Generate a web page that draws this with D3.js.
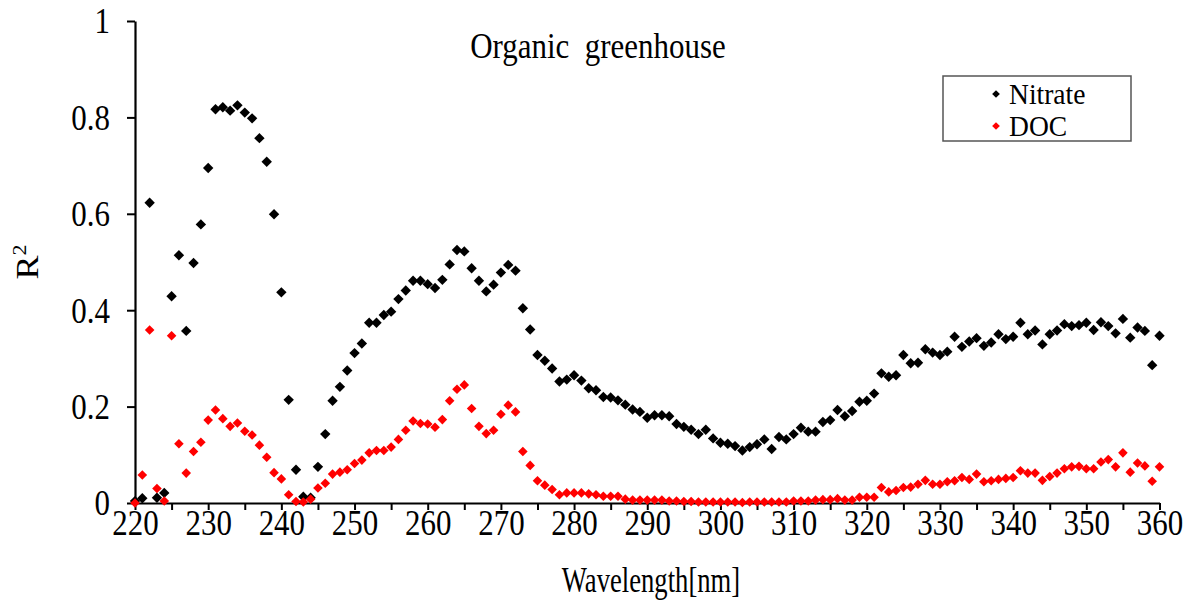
<!DOCTYPE html>
<html>
<head>
<meta charset="utf-8">
<script src="https://cdn.jsdelivr.net/npm/d3@7"></script>
<style>
  body { margin: 0; background: #fff; }
  text { font-family: "Liberation Serif", "Times New Roman", serif; fill: #000; }
</style>
</head>
<body>
<svg id="chart" width="1192" height="608"></svg>
<script>
// wavelengths 220..360 nm, one point per nm
const wavelengths = d3.range(220, 361);

const nitrate = [
  0.004, 0.010, 0.623, 0.011, 0.021, 0.429, 0.514, 0.357, 0.498, 0.578,
  0.695, 0.817, 0.821, 0.814, 0.825, 0.810, 0.798, 0.757, 0.708, 0.599,
  0.437, 0.214, 0.069, 0.013, 0.011, 0.075, 0.143, 0.212, 0.241, 0.275,
  0.311, 0.331, 0.374, 0.374, 0.390, 0.397, 0.423, 0.441, 0.461, 0.461,
  0.454, 0.446, 0.463, 0.495, 0.525, 0.522, 0.487, 0.461, 0.439, 0.453,
  0.478, 0.494, 0.482, 0.404, 0.360, 0.307, 0.295, 0.279, 0.252, 0.256,
  0.265, 0.254, 0.238, 0.234, 0.220, 0.219, 0.213, 0.204, 0.194, 0.189,
  0.177, 0.182, 0.182, 0.180, 0.164, 0.158, 0.152, 0.143, 0.152, 0.134,
  0.125, 0.123, 0.118, 0.109, 0.116, 0.122, 0.132, 0.112, 0.137, 0.132,
  0.143, 0.156, 0.148, 0.148, 0.168, 0.172, 0.193, 0.180, 0.191, 0.210,
  0.212, 0.227, 0.269, 0.262, 0.265, 0.307, 0.290, 0.291, 0.319, 0.312,
  0.307, 0.314, 0.345, 0.324, 0.335, 0.342, 0.326, 0.333, 0.350, 0.340,
  0.345, 0.374, 0.350, 0.358, 0.329, 0.350, 0.358, 0.371, 0.367, 0.369,
  0.374, 0.359, 0.375, 0.367, 0.352, 0.382, 0.343, 0.364, 0.357, 0.286,
  0.347
];

const doc = [
  0.000, 0.058, 0.359, 0.030, 0.004, 0.347, 0.123, 0.062, 0.107, 0.126,
  0.172, 0.193, 0.175, 0.159, 0.166, 0.149, 0.141, 0.120, 0.095, 0.063,
  0.050, 0.017, 0.003, 0.002, 0.008, 0.031, 0.041, 0.060, 0.064, 0.069,
  0.082, 0.089, 0.104, 0.109, 0.109, 0.116, 0.132, 0.151, 0.170, 0.165,
  0.164, 0.157, 0.173, 0.212, 0.236, 0.245, 0.196, 0.159, 0.144, 0.151,
  0.184, 0.203, 0.189, 0.107, 0.078, 0.046, 0.037, 0.028, 0.017, 0.021,
  0.021, 0.021, 0.019, 0.017, 0.014, 0.014, 0.014, 0.008, 0.006, 0.006,
  0.006, 0.006, 0.006, 0.004, 0.004, 0.003, 0.003, 0.002, 0.002, 0.002,
  0.002, 0.002, 0.002, 0.001, 0.002, 0.002, 0.002, 0.002, 0.002, 0.002,
  0.004, 0.004, 0.004, 0.006, 0.007, 0.007, 0.009, 0.006, 0.006, 0.012,
  0.012, 0.012, 0.032, 0.023, 0.026, 0.032, 0.033, 0.039, 0.047, 0.039,
  0.039, 0.044, 0.046, 0.053, 0.049, 0.060, 0.044, 0.046, 0.049, 0.051,
  0.053, 0.067, 0.062, 0.062, 0.047, 0.055, 0.062, 0.071, 0.075, 0.076,
  0.071, 0.071, 0.085, 0.090, 0.075, 0.104, 0.064, 0.083, 0.077, 0.045,
  0.075
];

const xTicks = d3.range(220, 361, 5);
const yTicks = [0, 0.2, 0.4, 0.6, 0.8, 1];
const yTickLabels = ["0", "0.2", "0.4", "0.6", "0.8", "1"];
const seriesNames = ["Nitrate", "DOC"];
const seriesColors = ["#000000", "#ff0000"];

const svg = d3.select("#chart");
const FS = 36, SX = 0.86; // serif text looks squeezed horizontally in the original

const xScale = d3.scaleLinear().domain([220, 360]).range([135, 1159.5]);
const yScale = d3.scaleLinear().domain([0, 1]).range([503, 21]);

// x axis
const xAxisG = svg.append("g")
  .attr("transform", `translate(0,${yScale(0)})`)
  .call(d3.axisBottom(xScale)
    .tickValues(xTicks)
    .tickSize(7)
    .tickSizeOuter(0)
    .tickFormat(d => (d % 10 === 0 ? d : "")));
xAxisG.select(".domain").attr("stroke-width", 2.2);
xAxisG.selectAll(".tick line").attr("stroke-width", 2);
xAxisG.selectAll(".tick text")
  .attr("font-size", FS)
  .attr("y", 32)
  .attr("dy", 0)
  .attr("transform", `scale(${SX},1)`);

// y axis
const yAxisG = svg.append("g")
  .attr("transform", `translate(${xScale(220)},0)`)
  .call(d3.axisLeft(yScale)
    .tickValues(yTicks)
    .tickSize(8)
    .tickSizeOuter(0)
    .tickFormat((d, i) => yTickLabels[i]));
yAxisG.select(".domain").attr("stroke-width", 2.2);
yAxisG.selectAll(".tick line").attr("stroke-width", 2);
yAxisG.selectAll(".tick text")
  .attr("font-size", FS)
  .attr("x", -25 / SX)
  .attr("dy", "0.33em")
  .attr("transform", `scale(${SX},1)`);

// markers: rotated squares (diamonds)
const diamond = (size) => d3.symbol(d3.symbolSquare, size);

const series = [nitrate, doc];
const sizes = [54, 46];
series.forEach((vals, s) => {
  svg.append("g")
    .selectAll("path")
    .data(vals)
    .enter()
    .append("path")
    .attr("d", diamond(sizes[s]))
    .attr("fill", seriesColors[s])
    .attr("transform", (d, i) => `translate(${xScale(wavelengths[i])},${yScale(d)}) rotate(45)`);
});

// title
svg.append("text")
  .attr("transform", `translate(598,58) scale(${SX},1)`)
  .attr("text-anchor", "middle")
  .attr("font-size", FS)
  .attr("xml:space", "preserve")
  .text("Organic  greenhouse");

// axis titles
svg.append("text")
  .attr("transform", `translate(651,592) scale(0.74,1)`)
  .attr("text-anchor", "middle")
  .attr("font-size", FS)
  .text("Wavelength[nm]");

const yLab = svg.append("text")
  .attr("transform", `translate(38,262) rotate(-90) scale(1,${SX})`)
  .attr("text-anchor", "middle")
  .attr("font-size", FS);
yLab.append("tspan").text("R");
yLab.append("tspan").attr("dy", -14).attr("font-size", 22).text("2");

// legend
const legend = svg.append("g").attr("transform", "translate(943,76)");
legend.append("rect")
  .attr("width", 188)
  .attr("height", 65)
  .attr("fill", "#fff")
  .attr("stroke", "#555")
  .attr("stroke-width", 1.5);
const items = legend.selectAll("g.item")
  .data(seriesNames)
  .enter()
  .append("g")
  .attr("class", "item")
  .attr("transform", (d, i) => `translate(0,${18 + i * 32})`);
items.append("path")
  .attr("d", diamond(30))
  .attr("fill", (d, i) => seriesColors[i])
  .attr("transform", "translate(53,0) rotate(45)");
items.append("text")
  .attr("transform", `translate(66,10) scale(0.95,1)`)
  .attr("font-size", 29)
  .text(d => d);
</script>
</body>
</html>
